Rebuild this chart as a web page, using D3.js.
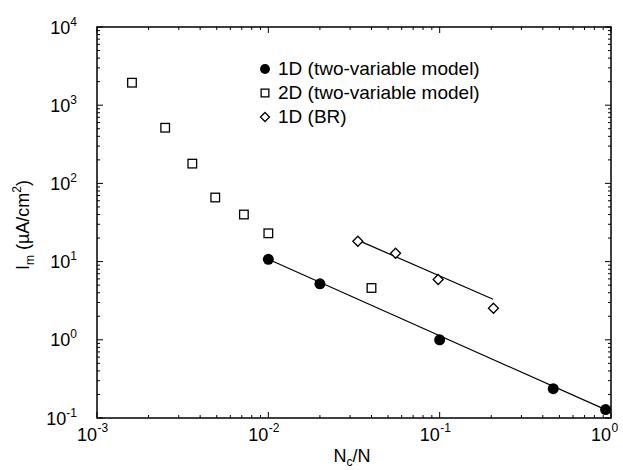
<!DOCTYPE html>
<html>
<head>
<meta charset="utf-8">
<script src="https://cdn.jsdelivr.net/npm/d3@7"></script>
<style>
  body { margin: 0; background: #fff; }
  svg { display: block; font-family: "Liberation Sans", Arial, sans-serif; }
</style>
</head>
<body>
<svg width="623" height="470"></svg>
<script>
// data
var oneDx = [0.01, 0.02, 0.1, 0.46, 0.93];
var oneDy = [10.7, 5.2, 1.0, 0.237, 0.128];

var twoDx = [0.0016, 0.0025, 0.0036, 0.0049, 0.0072, 0.01, 0.04];
var twoDy = [1940, 515, 179, 66, 40, 23, 4.6];

var brX = [0.0333, 0.0553, 0.098, 0.206];
var brY = [18.2, 12.8, 5.9, 2.53];

// fitted lines (end points)
var fitOneD = [[0.01, 10.7], [0.95, 0.125]];
var fitBR = [[0.034, 18.4], [0.205, 3.3]];

var xDecades = [-3, -2, -1, 0];
var yDecades = [-1, 0, 1, 2, 3, 4];

var legendLabels = ["1D (two-variable model)", "2D (two-variable model)", "1D (BR)"];

var margin = {left: 97, right: 12, top: 27, bottom: 52};
var width = 623, height = 470;

var svg = d3.select("svg");

var x = d3.scaleLog().domain([1e-3, 1]).range([margin.left, width - margin.right]);
var y = d3.scaleLog().domain([0.1, 1e4]).range([height - margin.bottom, margin.top]);

var x0 = x.range()[0], x1 = x.range()[1];
var y0 = y.range()[0], y1 = y.range()[1];

function isMajor(v) {
    var l = Math.log10(v);
    return Math.abs(l - Math.round(l)) < 1e-9;
}

// ticks pointing inward on all four sides
var ticks = svg.append("g").attr("stroke", "#000").attr("stroke-width", 1);
x.ticks().forEach(function(v) {
    var len = isMajor(v) ? 6 : 3;
    ticks.append("line").attr("x1", x(v)).attr("x2", x(v)).attr("y1", y0).attr("y2", y0 - len);
    ticks.append("line").attr("x1", x(v)).attr("x2", x(v)).attr("y1", y1).attr("y2", y1 + len);
});
y.ticks().forEach(function(v) {
    var len = isMajor(v) ? 6 : 3;
    ticks.append("line").attr("y1", y(v)).attr("y2", y(v)).attr("x1", x0).attr("x2", x0 + len);
    ticks.append("line").attr("y1", y(v)).attr("y2", y(v)).attr("x1", x1).attr("x2", x1 - len);
});

svg.append("rect")
    .attr("x", x0).attr("y", y1)
    .attr("width", x1 - x0).attr("height", y0 - y1)
    .attr("fill", "none").attr("stroke", "#000").attr("stroke-width", 1.5);

// tick labels
xDecades.forEach(function(d) {
    svg.append("text")
        .attr("x", x(Math.pow(10, d)))
        .attr("y", y0 + 23)
        .attr("font-size", 18)
        .attr("text-anchor", "end")
        .text("10");
    svg.append("text")
        .attr("x", x(Math.pow(10, d)) + 0.5)
        .attr("y", y0 + 14)
        .attr("font-size", 12)
        .text(d);
});
yDecades.forEach(function(d) {
    var t = svg.append("text")
        .attr("x", x0 - 20)
        .attr("y", y(Math.pow(10, d)) + 6.5)
        .attr("font-size", 18)
        .attr("text-anchor", "end");
    t.append("tspan").text("10");
    t.append("tspan").attr("font-size", 12).attr("dy", -8).text(d);
});

// axis titles
var xt = svg.append("text")
    .attr("x", 352).attr("y", 462)
    .attr("font-size", 18)
    .attr("text-anchor", "middle");
xt.append("tspan").text("N");
xt.append("tspan").attr("font-size", 12).attr("dy", 4).text("c");
xt.append("tspan").attr("dy", -4).text("/N");

var yt = svg.append("text")
    .attr("transform", "translate(29," + 225 + ") rotate(-90)")
    .attr("font-size", 18)
    .attr("text-anchor", "middle");
yt.append("tspan").text("I");
yt.append("tspan").attr("font-size", 12).attr("dy", 5).text("m");
yt.append("tspan").attr("dy", -5).text(" (\u00b5A/cm");
yt.append("tspan").attr("font-size", 12).attr("dy", -8).text("2");
yt.append("tspan").attr("dy", 8).text(")");

// fit lines
var line = d3.line().x(function(d) { return x(d[0]); }).y(function(d) { return y(d[1]); });
[fitOneD, fitBR].forEach(function(f) {
    svg.append("path").attr("d", line(f))
        .attr("fill", "none").attr("stroke", "#000").attr("stroke-width", 1.2);
});

function square(g, cx, cy, s) {
    var h = 4.3 * s;
    g.append("rect").attr("x", cx - h).attr("y", cy - h)
        .attr("width", 2 * h).attr("height", 2 * h)
        .attr("fill", "#fff").attr("stroke", "#000").attr("stroke-width", 1.3);
}
function diamond(g, cx, cy, s) {
    var r = 5 * s;
    g.append("path")
        .attr("d", "M" + cx + "," + (cy - r) + "L" + (cx + r) + "," + cy + "L" + cx + "," + (cy + r) + "L" + (cx - r) + "," + cy + "Z")
        .attr("fill", "#fff").attr("stroke", "#000").attr("stroke-width", 1.3);
}
function dot(g, cx, cy, s) {
    g.append("circle").attr("cx", cx).attr("cy", cy).attr("r", 5.5 * s).attr("fill", "#000");
}

var marks = svg.append("g");
twoDx.forEach(function(v, i) { square(marks, x(v), y(twoDy[i]), 1); });
brX.forEach(function(v, i) { diamond(marks, x(v), y(brY[i]), 1); });
oneDx.forEach(function(v, i) { dot(marks, x(v), y(oneDy[i]), 1); });

// legend
var leg = svg.append("g");
var drawers = [dot, square, diamond];
legendLabels.forEach(function(s, i) {
    var cy = 69 + i * 24;
    drawers[i](leg, 265, cy, 0.9);
    leg.append("text")
        .attr("x", 278).attr("y", cy + 6)
        .attr("font-size", 19)
        .text(s);
});
</script>
</body>
</html>
